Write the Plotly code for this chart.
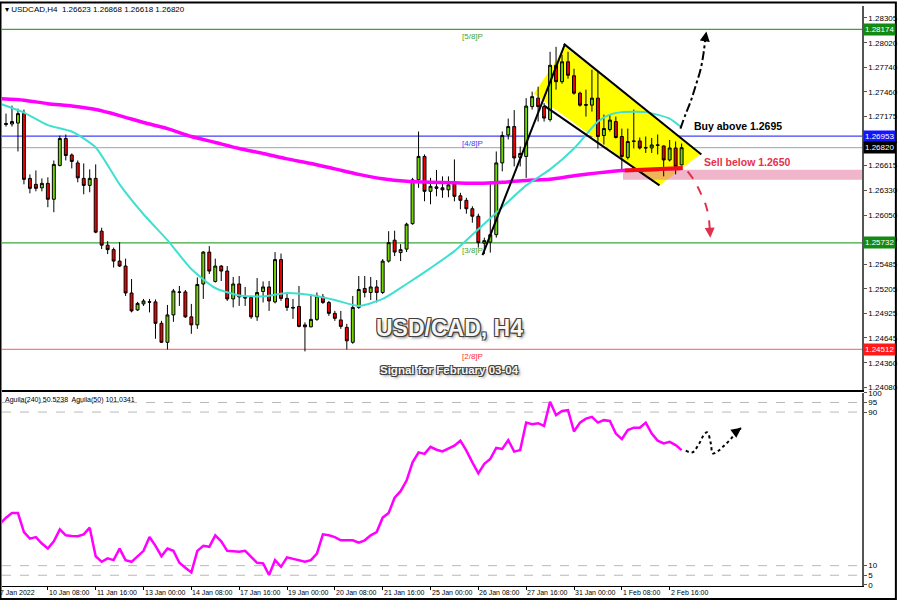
import plotly.graph_objects as go

# ---------------- data ----------------
bar_index = list(range(115))

open_ = [1.27108, 1.27085, 1.27091, 1.27102, 1.27210, 1.26469, 1.26401, 1.26361, 1.26412, 1.26230,
         1.26617, 1.26925, 1.26737, 1.26646, 1.26469, 1.26389, 1.26469, 1.25865, 1.25705, 1.25654,
         1.25523, 1.25466, 1.25158, 1.24964, 1.25033, 1.25058, 1.25056, 1.24811, 1.24594, 1.24907,
         1.25170, 1.25170, 1.24885, 1.24793, 1.25261, 1.25626, 1.25290, 1.25466, 1.25409, 1.25090,
         1.25261, 1.25113, 1.25107, 1.24885, 1.25175, 1.25227, 1.25056, 1.25540, 1.25096, 1.24993,
         1.25004, 1.24793, 1.24771, 1.24856, 1.25113, 1.25050, 1.24925, 1.24850, 1.24765, 1.24594,
         1.24993, 1.25210, 1.25164, 1.25227, 1.25164, 1.25523, 1.25762, 1.25620, 1.25660, 1.25951,
         1.26452, 1.26720, 1.26321, 1.26372, 1.26361, 1.26338, 1.26407, 1.26270, 1.26218, 1.26122,
         1.26036, 1.25728, 1.25740, 1.25825, 1.26646, 1.26965, 1.27062, 1.26709, 1.26720, 1.27290,
         1.27387, 1.27290, 1.27142, 1.27763, 1.27575, 1.27803, 1.27643, 1.27444, 1.27313, 1.27307,
         1.27387, 1.26959, 1.27028, 1.27119, 1.26948, 1.26709, 1.26897, 1.26897, 1.26823, 1.26817,
         1.26852, 1.26840, 1.26680, 1.26817, 1.26623]

high = [1.27233, 1.27210, 1.27301, 1.27267, 1.27256, 1.26515, 1.26560, 1.26469, 1.26481, 1.26674,
        1.26959, 1.26971, 1.26754, 1.26674, 1.26640, 1.26572, 1.26629, 1.25905, 1.25751, 1.25677,
        1.25740, 1.25551, 1.25318, 1.25056, 1.25090, 1.25090, 1.25084, 1.24839, 1.25021, 1.25204,
        1.25238, 1.25192, 1.25033, 1.25335, 1.25637, 1.25694, 1.25551, 1.25477, 1.25466, 1.25341,
        1.25352, 1.25227, 1.25124, 1.25329, 1.25290, 1.25295, 1.25626, 1.25609, 1.25147, 1.25090,
        1.25238, 1.24822, 1.25141, 1.25164, 1.25147, 1.25067, 1.24953, 1.24953, 1.24805, 1.25124,
        1.25352, 1.25352, 1.25341, 1.25306, 1.25546, 1.25865, 1.25871, 1.25717, 1.25962, 1.26475,
        1.27005, 1.26743, 1.26475, 1.26566, 1.26492, 1.26492, 1.26686, 1.26304, 1.26247, 1.26150,
        1.26065, 1.25791, 1.26435, 1.26777, 1.27005, 1.27153, 1.27250, 1.26834, 1.27387, 1.27461,
        1.27518, 1.27330, 1.27917, 1.27974, 1.27883, 1.27917, 1.27723, 1.27461, 1.27484, 1.27712,
        1.27689, 1.27199, 1.27199, 1.27176, 1.27039, 1.27039, 1.27256, 1.26937, 1.26948, 1.26931,
        1.26971, 1.26845, 1.26908, 1.26891, 1.26868]

low = [1.27085, 1.27062, 1.27062, 1.26777, 1.26401, 1.26298, 1.26321, 1.26321, 1.26139, 1.26082,
       1.26606, 1.26674, 1.26583, 1.26424, 1.26287, 1.26310, 1.25842, 1.25660, 1.25603, 1.25449,
       1.25455, 1.25124, 1.24936, 1.24953, 1.25010, 1.24936, 1.24634, 1.24588, 1.24512, 1.24828,
       1.25010, 1.24873, 1.24691, 1.24748, 1.25090, 1.25375, 1.25278, 1.25295, 1.25067, 1.24993,
       1.25010, 1.25010, 1.24862, 1.24839, 1.25050, 1.24953, 1.25039, 1.25067, 1.24953, 1.24862,
       1.24765, 1.24490, 1.24765, 1.24839, 1.25033, 1.24896, 1.24839, 1.24748, 1.24512, 1.24577,
       1.24976, 1.25107, 1.25078, 1.25050, 1.25147, 1.25506, 1.25580, 1.25523, 1.25626, 1.25939,
       1.26361, 1.26207, 1.26173, 1.26264, 1.26247, 1.26253, 1.26207, 1.26116, 1.26065, 1.25962,
       1.25677, 1.25603, 1.25620, 1.25791, 1.26549, 1.26914, 1.26606, 1.26606, 1.26475, 1.27256,
       1.27119, 1.27119, 1.27119, 1.27484, 1.27552, 1.27609, 1.27427, 1.27290, 1.27176, 1.27233,
       1.26811, 1.26857, 1.27005, 1.26925, 1.26572, 1.26686, 1.26811, 1.26800, 1.26760, 1.26760,
       1.26743, 1.26492, 1.26663, 1.26515, 1.26618]

close = [1.27187, 1.27096, 1.27119, 1.27210, 1.26458, 1.26355, 1.26355, 1.26412, 1.26230, 1.26629,
         1.26925, 1.26731, 1.26663, 1.26475, 1.26389, 1.26469, 1.25854, 1.25705, 1.25654, 1.25523,
         1.25466, 1.25158, 1.24953, 1.25039, 1.25067, 1.25053, 1.24811, 1.24594, 1.24907, 1.25181,
         1.25166, 1.24885, 1.24793, 1.25255, 1.25626, 1.25409, 1.25466, 1.25409, 1.25090, 1.25261,
         1.25113, 1.25101, 1.24885, 1.25164, 1.25227, 1.25067, 1.25540, 1.25096, 1.24993, 1.24987,
         1.24776, 1.24771, 1.24856, 1.25124, 1.25050, 1.24925, 1.24868, 1.24776, 1.24611, 1.24993,
         1.25198, 1.25164, 1.25227, 1.25164, 1.25523, 1.25734, 1.25626, 1.25654, 1.25945, 1.26452,
         1.26720, 1.26321, 1.26378, 1.26355, 1.26338, 1.26395, 1.26264, 1.26218, 1.26122, 1.26036,
         1.25734, 1.25757, 1.25825, 1.26646, 1.26959, 1.27062, 1.26703, 1.26754, 1.27296, 1.27404,
         1.27290, 1.27159, 1.27763, 1.27575, 1.27803, 1.27649, 1.27444, 1.27307, 1.27307, 1.27387,
         1.26948, 1.27039, 1.27136, 1.26937, 1.26720, 1.26891, 1.26893, 1.26817, 1.26817, 1.26851,
         1.26848, 1.26680, 1.26817, 1.26606, 1.26820]

# moving averages, sampled every 4 bars
ma_index = [0, 4, 8, 12, 16, 20, 24, 28, 32, 36, 40, 44, 48, 52, 56, 60, 64, 68, 72, 76,
            80, 84, 88, 92, 96, 100, 104, 108, 112, 114]
ma_slow = [1.27381, 1.27364, 1.27324, 1.27296, 1.27256, 1.27187, 1.27108, 1.27039, 1.26948, 1.26880,
           1.26811, 1.26754, 1.26692, 1.26640, 1.26578, 1.26515, 1.26464, 1.26435, 1.26424, 1.26418,
           1.26412, 1.26424, 1.26446, 1.26458, 1.26498, 1.26532, 1.26560, 1.26566, 1.26578, 1.26583]
ma_fast_index = [0, 4, 8, 12, 16, 20, 24, 28, 32, 36, 40, 44, 48, 52, 56, 60, 64, 68, 72, 76,
                 80, 84, 88, 92, 96, 100, 102, 104, 108, 112, 114]
ma_fast = [1.27324, 1.27222, 1.27079, 1.27005, 1.26823, 1.26401, 1.26059, 1.25762, 1.25432, 1.25215,
           1.25130, 1.25118, 1.25158, 1.25135, 1.25078, 1.25010, 1.25090, 1.25261, 1.25443, 1.25637,
           1.25888, 1.26139, 1.26389, 1.26572, 1.26811, 1.27119, 1.27199, 1.27227, 1.27227, 1.27153,
           1.27051]

# oscillator Aguila
aguila = [31.9, 35.0, 37.4, 37.4, 27.5, 24.1, 24.9, 21.5, 18.9, 22.7,
          28.9, 25.8, 25.5, 25.3, 26.3, 29.8, 14.9, 12.0, 13.8, 12.9,
          18.9, 12.9, 12.0, 14.6, 17.7, 24.9, 20.3, 14.9, 18.9, 17.7,
          11.5, 8.9, 6.5, 17.7, 20.3, 19.8, 25.8, 22.7, 17.7, 17.5,
          17.2, 17.7, 14.6, 11.5, 11.2, 5.1, 12.9, 9.4, 14.3, 13.4,
          12.9, 12.0, 12.9, 16.3, 26.3, 25.8, 24.9, 23.2, 23.2, 23.2,
          22.0, 23.2, 25.8, 27.5, 35.0, 37.4, 45.4, 48.8, 54.3, 63.8,
          69.0, 68.2, 71.9, 70.4, 69.5, 70.8, 72.5, 75.1, 69.9, 63.8,
          58.1, 63.0, 65.6, 71.3, 70.8, 75.4, 69.4, 70.2, 84.5, 83.7,
          84.2, 82.8, 95.4, 88.4, 90.6, 91.0, 79.9, 84.5, 86.6, 87.5,
          84.5, 85.8, 85.4, 78.8, 75.9, 80.6, 81.9, 81.9, 84.5, 78.8,
          75.1, 73.7, 74.5, 72.8, 70.2]

# x-axis labels (every 8 bars)
tick_index = [0, 8, 16, 24, 32, 40, 48, 56, 64, 72, 80, 88, 96, 104, 112]
tick_labels = ["7 Jan 2022", "10 Jan 08:00", "11 Jan 16:00", "13 Jan 00:00", "14 Jan 08:00",
               "17 Jan 16:00", "19 Jan 00:00", "20 Jan 08:00", "21 Jan 16:00", "25 Jan 00:00",
               "26 Jan 08:00", "27 Jan 16:00", "31 Jan 00:00", "1 Feb 08:00", "2 Feb 16:00"]

price_ticks = [1.28305, 1.28020, 1.27740, 1.27460, 1.27175, 1.26895, 1.26615, 1.26330, 1.26050,
               1.25770, 1.25485, 1.25205, 1.24925, 1.24645, 1.24360, 1.24080]
osc_ticks = [0, 5, 10, 90, 95, 100]
osc_levels = [95, 90, 10, 5]

# Murrey levels: (price, colour, label, box colour)
levels = [(1.28174, "#3aa63a", "[5/8]P", "#138a13"),
          (1.26953, "#4040ff", "[4/8]P", "#1414ff"),
          (1.25732, "#3aa63a", "[3/8]P", "#138a13"),
          (1.24512, "#ff7a7a", "[2/8]P", "#ff1a1a")]
last_price = 1.26820

# drawn objects (bar index, price)
channel_poly = [(89.3, 1.27438), (94.5, 1.27974), (117.3, 1.26754), (110.3, 1.26389)]
channel_upper = [(94.3, 1.28008), (117.3, 1.26743)]
channel_lower = [(91.0, 1.27301), (110.3, 1.26389)]
trend_line = [(80.7, 1.25591), (94.5, 1.28008)]
sell_zone = (104.2, 146.0, 1.26454, 1.26568)
sell_ma_mark = [(104.5, 1.26560), (114.2, 1.26587)]
up_arrow_x = [113.8, 114.7, 115.5, 116.3, 117.2, 117.7, 118.0, 118.15]
up_arrow_y = [1.27039, 1.27210, 1.27347, 1.27518, 1.27723, 1.27917, 1.28088, 1.28150]
dn_arrow_x = [115.0, 116.2, 117.2, 118.0, 118.5, 118.7, 118.8]
dn_arrow_y = [1.26549, 1.26435, 1.26298, 1.26173, 1.26036, 1.25899, 1.25790]
osc_arrow_x = [114.7, 115.8, 116.9, 117.8, 118.3, 118.9, 119.2, 120.0, 121.1, 122.2, 123.3, 124.0]
osc_arrow_y = [69.9, 69.0, 73.4, 78.5, 79.4, 73.4, 68.5, 69.5, 72.5, 75.9, 80.2, 81.8]

FONT = "Liberation Sans, Arial, sans-serif"

fig = go.Figure()

fig.add_trace(go.Candlestick(
    x=bar_index, open=open_, high=high, low=low, close=close,
    increasing=dict(line=dict(color="black", width=1), fillcolor="#74d600"),
    decreasing=dict(line=dict(color="black", width=1), fillcolor="#f00000"),
    whiskerwidth=0, xaxis="x", yaxis="y", hoverinfo="skip"))

fig.add_trace(go.Scatter(x=ma_index, y=ma_slow, mode="lines",
                         line=dict(color="#ff00ff", width=3.5, shape="spline", smoothing=0.6),
                         xaxis="x", yaxis="y", hoverinfo="skip"))
fig.add_trace(go.Scatter(x=ma_fast_index, y=ma_fast, mode="lines",
                         line=dict(color="#40e0d0", width=2, shape="spline", smoothing=0.6),
                         xaxis="x", yaxis="y", hoverinfo="skip"))

# arrows (dashed paths)
fig.add_trace(go.Scatter(x=up_arrow_x, y=up_arrow_y, mode="lines",
                         line=dict(color="black", width=2, dash="dashdot", shape="spline"),
                         xaxis="x", yaxis="y", hoverinfo="skip"))
fig.add_trace(go.Scatter(x=dn_arrow_x, y=dn_arrow_y, mode="lines",
                         line=dict(color="#e0304e", width=2, dash="dash", shape="spline"),
                         xaxis="x", yaxis="y", hoverinfo="skip"))

fig.add_trace(go.Scatter(x=bar_index, y=aguila, mode="lines",
                         line=dict(color="#ff00ff", width=2.5),
                         xaxis="x2", yaxis="y2", hoverinfo="skip"))
fig.add_trace(go.Scatter(x=osc_arrow_x, y=osc_arrow_y, mode="lines",
                         line=dict(color="black", width=2, dash="dot", shape="spline"),
                         xaxis="x2", yaxis="y2", hoverinfo="skip"))

shapes = []
path = "M " + " L ".join(f"{x},{y}" for x, y in channel_poly) + " Z"
shapes.append(dict(type="path", path=path, xref="x", yref="y", fillcolor="#ffff00",
                   line=dict(width=0), layer="below"))
shapes.append(dict(type="rect", xref="x", yref="y", x0=sell_zone[0], x1=sell_zone[1],
                   y0=sell_zone[2], y1=sell_zone[3], fillcolor="rgba(228,120,160,0.55)",
                   line=dict(width=0), layer="below"))
for price, col, _, _ in levels:
    shapes.append(dict(type="line", xref="paper", yref="y", x0=0, x1=1, y0=price, y1=price,
                       line=dict(color=col, width=1.3), layer="below"))
shapes.append(dict(type="line", xref="paper", yref="y", x0=0, x1=1, y0=last_price, y1=last_price,
                   line=dict(color="#a0a0a8", width=1), layer="below"))
for seg in (channel_upper, channel_lower, trend_line):
    shapes.append(dict(type="line", xref="x", yref="y", x0=seg[0][0], y0=seg[0][1],
                       x1=seg[1][0], y1=seg[1][1], line=dict(color="black", width=2)))
shapes.append(dict(type="line", xref="x", yref="y", x0=sell_ma_mark[0][0], y0=sell_ma_mark[0][1],
                   x1=sell_ma_mark[1][0], y1=sell_ma_mark[1][1], line=dict(color="#f01010", width=4)))
for lv in osc_levels:
    shapes.append(dict(type="line", xref="paper", yref="y2", x0=0, x1=1, y0=lv, y1=lv,
                       line=dict(color="#b8b8b8", width=1, dash="dash"), layer="below"))

# outer frame
L, R, T, B = 2, 35, 4, 14
PW, PH = 900 - L - R, 600 - T - B
shapes.append(dict(type="rect", xref="paper", yref="paper",
                   x0=-1.5 / PW, x1=(900 - L - 1) / PW, y0=-(B - 1) / PH, y1=(PH + T - 0.5) / PH,
                   line=dict(color="black", width=2), fillcolor="rgba(0,0,0,0)"))

ann = []
ann.append(dict(xref="paper", yref="paper", x=0, y=1, xanchor="left", yanchor="top", yshift=3,
                xshift=1, showarrow=False,
                text="▾ USDCAD,H4  1.26623 1.26868 1.26618 1.26820",
                font=dict(family=FONT, size=8, color="black")))
ann.append(dict(xref="paper", yref="paper", x=0, y=0.3333, xanchor="left", yanchor="top", yshift=-1,
                xshift=1, showarrow=False,
                text="Aguila(240) 50.5238  Aguila(50) 101.0341",
                font=dict(family=FONT, size=7, color="black")))
for price, col, lab, box in levels:
    ann.append(dict(xref="x", yref="y", x=79, y=price, yanchor="top", yshift=-1, showarrow=False,
                    text=lab, font=dict(family=FONT, size=8, color=col if col != "#ff7a7a" else "#ff3030")))
    ann.append(dict(xref="paper", yref="y", x=1, y=price, xanchor="left", xshift=1, showarrow=False,
                    text=f"{price:.5f}", bgcolor=box, borderpad=1,
                    font=dict(family=FONT, size=8, color="white")))
ann.append(dict(xref="paper", yref="y", x=1, y=last_price, xanchor="left", xshift=1, showarrow=False,
                text=f"{last_price:.5f}", bgcolor="black", borderpad=1,
                font=dict(family=FONT, size=8, color="white")))

ann.append(dict(xref="x", yref="y", x=123.5, y=1.27073, showarrow=False, text="<b>Buy above 1.2695</b>",
                font=dict(family=FONT, size=10.5, color="black")))
ann.append(dict(xref="x", yref="y", x=125.1, y=1.26652, showarrow=False, text="<b>Sell below 1.2650</b>",
                font=dict(family=FONT, size=10.5, color="#e8304a")))

outline = ("-1px -1px 0 #404040, 1px -1px 0 #404040, -1px 1px 0 #404040, 1px 1px 0 #404040, "
           "2px 2px 3px #808080")
ann.append(dict(xref="x", yref="y", x=75.2, y=1.24759, showarrow=False, text="<b>USD/CAD, H4</b>",
                font=dict(family=FONT, size=23, color="#f6f6f6", shadow=outline)))
ann.append(dict(xref="x", yref="y", x=75.2, y=1.24280, showarrow=False,
                text="<b>Signal for February 03-04</b>",
                font=dict(family=FONT, size=11.5, color="#f6f6f6", shadow=outline)))

# arrowheads
ann.append(dict(xref="x", yref="y", x=up_arrow_x[-1], y=up_arrow_y[-1], axref="x", ayref="y",
                ax=up_arrow_x[-2], ay=up_arrow_y[-2], showarrow=True, arrowhead=2, arrowsize=1,
                arrowwidth=2, arrowcolor="black", text=""))
ann.append(dict(xref="x", yref="y", x=dn_arrow_x[-1], y=dn_arrow_y[-1], axref="x", ayref="y",
                ax=dn_arrow_x[-2], ay=dn_arrow_y[-2], showarrow=True, arrowhead=2, arrowsize=1,
                arrowwidth=2, arrowcolor="#e0304e", text=""))
ann.append(dict(xref="x2", yref="y2", x=osc_arrow_x[-1], y=osc_arrow_y[-1], axref="x2", ayref="y2",
                ax=osc_arrow_x[-2], ay=osc_arrow_y[-2], showarrow=True, arrowhead=2, arrowsize=1,
                arrowwidth=2, arrowcolor="black", text=""))

for ti, tl in zip(tick_index, tick_labels):
    if ti == 0:
        ann.append(dict(xref="paper", yref="paper", x=0, y=0, xanchor="left", yanchor="top",
                        yshift=-1, xshift=-4, showarrow=False, text=tl,
                        font=dict(family=FONT, size=7, color="black")))
    else:
        ann.append(dict(xref="x2", yref="paper", x=ti, y=0, xanchor="left", yanchor="top",
                        yshift=-1, xshift=-1, showarrow=False, text=tl,
                        font=dict(family=FONT, size=7, color="black")))

fig.update_layout(
    width=900, height=600, margin=dict(l=L, r=R, t=T, b=B),
    paper_bgcolor="white", plot_bgcolor="white", showlegend=False,
    shapes=shapes, annotations=ann,
    xaxis=dict(domain=[0, 1], anchor="y", range=[0.33, 144.17], showticklabels=False,
               showgrid=False, zeroline=False, showline=True, linecolor="black", linewidth=2,
               ticks="", rangeslider=dict(visible=False)),
    yaxis=dict(domain=[0.3385, 1], anchor="x", range=[1.24052, 1.28441], side="right",
               tickvals=price_ticks, tickformat=".5f", ticks="outside", ticklen=3,
               tickcolor="#555", showline=True, linecolor="#555", linewidth=1.5,
               showgrid=False, zeroline=False,
               tickfont=dict(family=FONT, size=8, color="black")),
    xaxis2=dict(domain=[0, 1], anchor="y2", matches="x", showticklabels=False,
                tickvals=tick_index, ticks="outside", ticklen=3, tickcolor="black",
                showgrid=False, zeroline=False, showline=True, linecolor="black", linewidth=1),
    yaxis2=dict(domain=[0, 0.3333], anchor="x2", range=[-0.6, 100.1], side="right",
                tickvals=osc_ticks, ticks="outside", ticklen=3, tickcolor="#555",
                showline=True, linecolor="#555", linewidth=1.5, showgrid=False, zeroline=False,
                tickfont=dict(family=FONT, size=8, color="black")),
)

fig.write_html("out.html", config={"displayModeBar": False},
               post_script="document.body.style.margin='0';document.body.style.overflow='hidden';")
